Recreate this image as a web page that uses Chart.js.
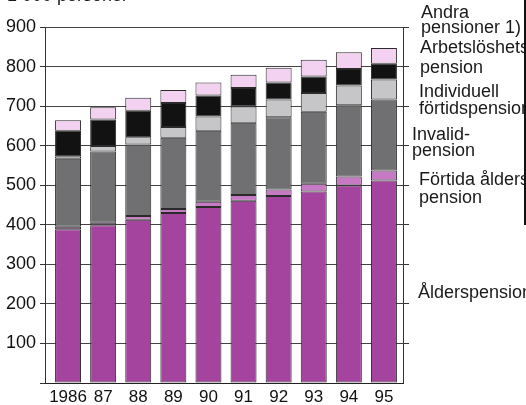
<!DOCTYPE html>
<html>
<head>
<meta charset="utf-8">
<script src="https://cdn.jsdelivr.net/npm/chart.js@4.4.0/dist/chart.umd.min.js"></script>
<style>
body{margin:0;background:#fff;}
#wrap{position:relative;width:526px;height:405px;}
</style>
</head>
<body>
<div id="wrap"><canvas id="myChart"></canvas></div>
<script>
// 1 000 personer, 1986-1995
const years = ['1986','87','88','89','90','91','92','93','94','95'];
const alders       = [389,399,413,430,445,461,473,484,499,512];
const fortidaAlders= [6,6,9,10,13,14,16,20,23,25];
const invalid      = [172,180,181,180,180,183,183,182,180,180];
const individuell  = [6,14,18,27,36,41,45,47,50,50];
const arbetsloshet = [65,67,67,61,53,47,43,42,42,40];
const andra        = [26,31,33,33,33,33,37,42,42,40];
const yTicks = [100,200,300,400,500,600,700,800,900];

const seriesNames = ['Ålderspension','Förtida ålderspension','Invalidpension','Individuell förtidspension','Arbetslöshetspension','Andra pensioner 1)'];
const sideLabels = [
  ['Andra','pensioner 1)'],
  ['Arbetslöshets','pension'],
  ['Individuell','förtidspension'],
  ['Invalid-','pension'],
  ['Förtida ålders','pension'],
  ['Ålderspension']
];

const FONT = "'Liberation Sans', Arial, Helvetica, sans-serif";

function toPts(arr){
  return arr.map((v,i) => ({x:i, y:v}));
}

function ds(label, arr, color){
  return {
    label: label,
    data: toPts(arr),
    backgroundColor: color,
    borderColor: '#2a2a2a',
    borderWidth: 1,
    borderSkipped: false,
    barPercentage: 0.74,
    categoryPercentage: 1
  };
}

const sideText = {
  id: 'sideText',
  afterDraw(chart){
    const ctx = chart.ctx;
    ctx.save();
    ctx.fillStyle = '#1a1a1a';
    ctx.font = '18px ' + FONT;
    ctx.textAlign = 'left';
    ctx.textBaseline = 'alphabetic';
    const pos = [
      [421,[18,33]],
      [420,[53,73]],
      [419,[97,114]],
      [412,[140,156]],
      [419,[185,203]],
      [418,[298]]
    ];
    sideLabels.forEach((lines,k) => {
      lines.forEach((t,j) => ctx.fillText(t, pos[k][0], pos[k][1][j]));
    });
    ctx.fillText('1 000 personer', 7, 1);
    // dark page edge at the right
    ctx.fillStyle = '#111';
    ctx.fillRect(524, 0, 2, 225);
    ctx.restore();
  }
};

new Chart(document.getElementById('myChart'), {
  type: 'bar',
  data: {
    datasets: [
      ds(seriesNames[0], alders, '#a4449f'),
      ds(seriesNames[1], fortidaAlders, '#c67ac4'),
      ds(seriesNames[2], invalid, '#707072'),
      ds(seriesNames[3], individuell, '#c6c6c9'),
      ds(seriesNames[4], arbetsloshet, '#121212'),
      ds(seriesNames[5], andra, '#f3d2f1')
    ]
  },
  options: {
    responsive: true,
    maintainAspectRatio: false,
    animation: false,
    layout: { padding: { top: 27, left: 0, right: 0, bottom: 0 } },
    plugins: { legend: { display: false }, tooltip: { enabled: false } },
    scales: {
      x: {
        type: 'linear',
        stacked: true,
        offset: false,
        min: -0.657,
        max: 9.543,
        afterBuildTicks: s => { s.ticks = years.map((y,i) => ({value:i})); },
        afterFit: s => { s.height = 22; },
        grid: { display: true, drawOnChartArea: false, drawTicks: false },
        border: { display: true, color: '#222', width: 1 },
        ticks: {
          autoSkip: false, maxRotation: 0, padding: 4,
          color: '#111',
          font: { family: FONT, size: 17 },
          callback: v => years[v]
        }
      },
      y: {
        stacked: true,
        min: 0, max: 900,
        afterBuildTicks: s => { s.ticks = [0].concat(yTicks).map(v => ({value:v})); },
        afterFit: s => { s.width = 45; },
        grid: { color: '#444', lineWidth: 1, tickLength: 5, tickColor: '#333' },
        border: { display: true, color: '#333', width: 1 },
        ticks: {
          padding: 4, color: '#111',
          font: { family: FONT, size: 18 },
          callback: v => (v === 0 ? '' : v)
        }
      },
      y2: {
        position: 'right',
        min: 0, max: 900,
        afterBuildTicks: s => { s.ticks = yTicks.map(v => ({value:v})); },
        afterFit: s => { s.width = 123; },
        grid: { drawOnChartArea: false, tickLength: 6, tickColor: '#333' },
        border: { display: true, color: '#333', width: 1 },
        ticks: { display: false }
      }
    }
  },
  plugins: [sideText]
});
</script>
</body>
</html>
